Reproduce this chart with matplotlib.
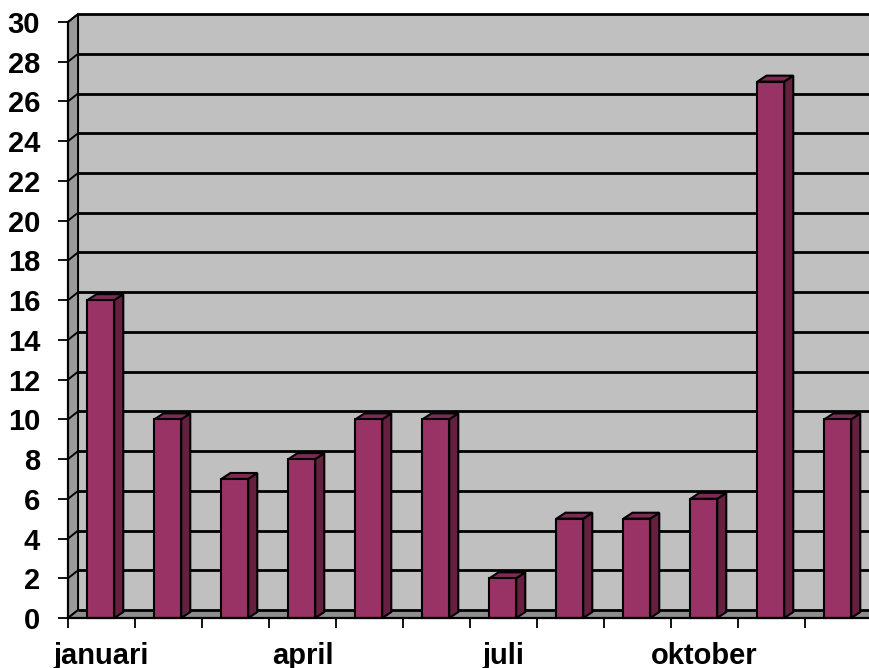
import matplotlib
matplotlib.use("Agg")
import matplotlib.pyplot as plt
from matplotlib.patches import Polygon

plt.rcParams['font.family'] = ['Liberation Sans', 'DejaVu Sans']

months = ["januari", "februari", "maart", "april", "mei", "juni",
          "juli", "augustus", "september", "oktober", "november", "december"]
values = [16, 10, 7, 8, 10, 10, 2, 5, 5, 6, 27, 10]
yticks = list(range(0, 31, 2))

# 3D look (offsets in data units)
wall_dx, wall_dy = 0.15, 0.40
bar_dx, bar_dy = 0.135, 0.30
bar_left, bar_w = 0.29, 0.40

front_col = "#993366"
side_col = "#66203f"
top_col = "#7f2a55"

fig = plt.figure(figsize=(8.7, 6.68), dpi=100)
ax = fig.add_axes([68 / 870, 50 / 668, 804 / 870, 596 / 668])
ax.set_xlim(0, 12)
ax.set_ylim(0, 30)
ax.patch.set_visible(False)

# walls and floor
back = Polygon([(wall_dx, wall_dy), (12.5, wall_dy), (12.5, 30 + wall_dy), (wall_dx, 30 + wall_dy)],
               closed=True, facecolor="#c0c0c0", edgecolor="none", clip_on=False, zorder=1)
left = Polygon([(0, 0), (0, 30), (wall_dx, 30 + wall_dy), (wall_dx, wall_dy)],
               closed=True, facecolor="#9a9a9a", edgecolor="black", lw=1.4, clip_on=False, zorder=2)
floor = Polygon([(0, 0), (12.5, 0), (12.5, wall_dy), (wall_dx, wall_dy)],
                closed=True, facecolor="#8e8e8e", edgecolor="none", clip_on=False, zorder=2)
for p in (back, left, floor):
    ax.add_patch(p)

# gridlines on back wall + diagonals on side wall
for y in yticks:
    ax.plot([wall_dx, 12.5], [y + wall_dy, y + wall_dy], color="black", lw=2.0,
            clip_on=False, zorder=3, solid_capstyle="butt")
    ax.plot([0, wall_dx], [y, y + wall_dy], color="black", lw=1.4, clip_on=False, zorder=3)

# bars
for i, v in enumerate(values):
    x0 = i + bar_left
    x1 = x0 + bar_w
    side = Polygon([(x1, 0), (x1 + bar_dx, bar_dy), (x1 + bar_dx, v + bar_dy), (x1, v)],
                   closed=True, facecolor=side_col, edgecolor="black", lw=1.5, clip_on=False, zorder=5)
    top = Polygon([(x0, v), (x1, v), (x1 + bar_dx, v + bar_dy), (x0 + bar_dx, v + bar_dy)],
                  closed=True, facecolor=top_col, edgecolor="black", lw=1.5, clip_on=False, zorder=5)
    front = Polygon([(x0, 0), (x1, 0), (x1, v), (x0, v)],
                    closed=True, facecolor=front_col, edgecolor="black", lw=1.5, clip_on=False, zorder=6)
    for p in (side, top, front):
        ax.add_patch(p)

# axes
for s in ("top", "right"):
    ax.spines[s].set_visible(False)
for s in ("left", "bottom"):
    ax.spines[s].set_color("black")
    ax.spines[s].set_linewidth(1.6)
    ax.spines[s].set_zorder(7)
ax.spines["bottom"].set_bounds(0, 12.5)

ax.set_yticks(yticks)
ax.set_yticklabels([str(y) for y in yticks], fontsize=21, fontweight="bold")
ax.tick_params(axis="y", length=7, width=1.3, pad=13)

ax.set_xticks([i + 0.5 for i in range(12)])
ax.set_xticklabels([m if i % 3 == 0 else "" for i, m in enumerate(months)],
                   fontsize=21, fontweight="bold")
ax.tick_params(axis="x", which="major", length=0, pad=17)
ax.set_xticks(range(13), minor=True)
ax.tick_params(axis="x", which="minor", length=7, width=1.3)

fig.savefig("out.png", dpi=100)
